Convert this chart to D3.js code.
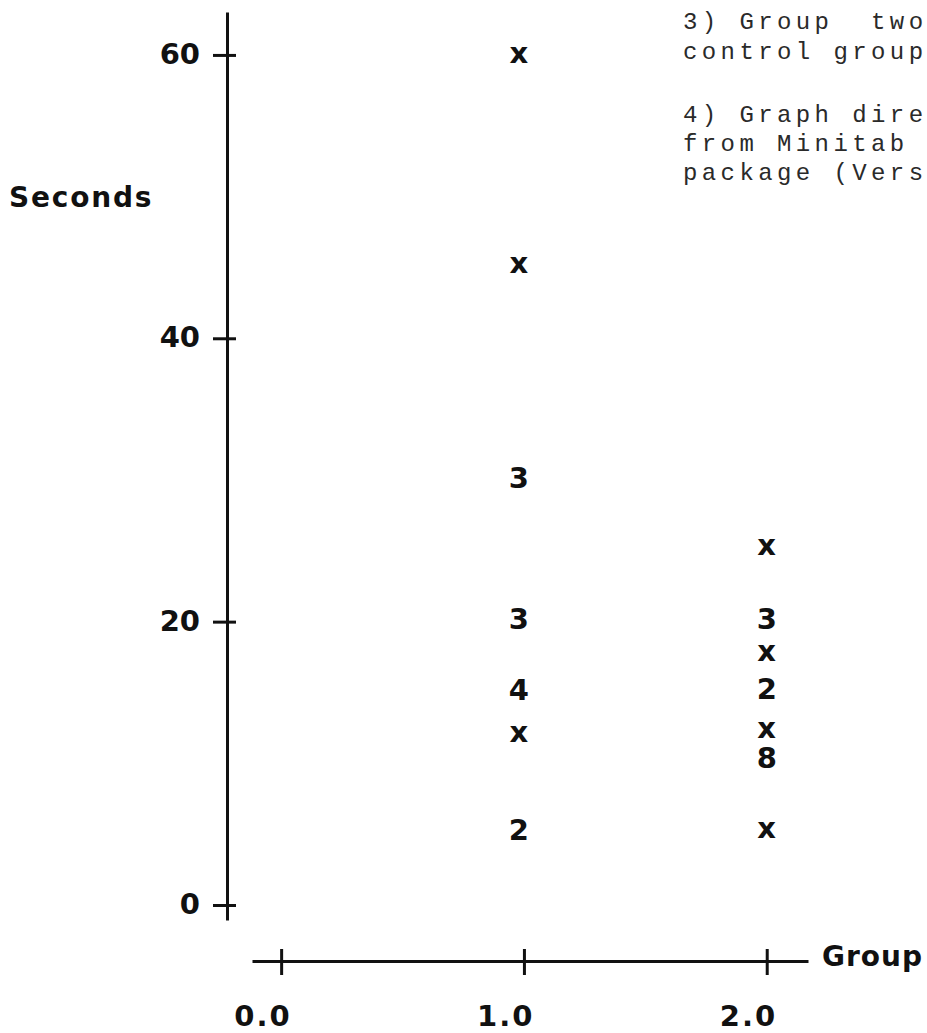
<!DOCTYPE html>
<html>
<head>
<meta charset="utf-8">
<script src="https://cdn.jsdelivr.net/npm/d3@7"></script>
<style>
  html, body { margin: 0; padding: 0; background: #fff; overflow: hidden; }
  svg { display: block; }
</style>
</head>
<body>
<script>
// ---------------- data ----------------
const yTickValues = [0, 20, 40, 60];
const xTickValues = [0, 1, 2];
const xTickLabels = ["0.0", "1.0", "2.0"];

const group1Seconds = [60, 45.2, 30.2, 20.2, 15.2, 12.1, 5.3];
const group1Symbols = ["x", "x", "3", "3", "4", "x", "2"];
const group2Seconds = [25.3, 20.2, 17.8, 15.3, 12.4, 10.4, 5.3];
const group2Symbols = ["x", "3", "x", "2", "x", "8", "x"];

const yAxisTitle = "Seconds";
const xAxisTitle = "Group";
const noteLines = [
  "3) Group  two",
  "control group",
  "",
  "",
  "4) Graph dire",
  "from Minitab",
  "package (Vers"
];

// ---------------- layout ----------------
const W = 927, H = 1033;
const svg = d3.select("body").append("svg").attr("width", W).attr("height", H);

const yScale = d3.scaleLinear().domain([-1.06, 63.03]).range([920, 12]);
const xScale = d3.scaleLinear().domain([-0.12, 2.17]).range([252, 808]);
const axisX = 227;     // where y axis sits
const axisY = 961;     // where x axis sits

const boldFont = "'DejaVu Sans', sans-serif";

// ---------------- y axis ----------------
const gy = svg.append("g")
  .attr("transform", `translate(${axisX},0)`)
  .call(d3.axisLeft(yScale).tickValues(yTickValues).tickSizeOuter(0).tickSizeInner(14).tickFormat(d3.format("d")));
gy.select(".domain").attr("stroke", "#111").attr("stroke-width", 3);
gy.selectAll(".tick line").attr("x1", 9).attr("x2", -14).attr("stroke", "#111").attr("stroke-width", 3);
gy.selectAll(".tick text")
  .attr("x", -27).attr("dy", "0.3em")
  .attr("font-family", boldFont).attr("font-weight", "bold").attr("font-size", 29)
  .attr("fill", "#111");

// ---------------- x axis ----------------
const gx = svg.append("g")
  .attr("transform", `translate(0,${axisY})`)
  .call(d3.axisBottom(xScale).tickValues(xTickValues).tickSizeOuter(0).tickSizeInner(12)
        .tickFormat((d, i) => xTickLabels[i]));
gx.select(".domain").attr("stroke", "#111").attr("stroke-width", 3);
gx.selectAll(".tick line").attr("y1", -12).attr("y2", 14).attr("stroke", "#111").attr("stroke-width", 3);
gx.selectAll(".tick text")
  .attr("y", 65).attr("dy", 0).attr("x", 10)
  .attr("text-anchor", "end")
  .attr("font-family", boldFont).attr("font-weight", "bold").attr("font-size", 29)
  .attr("letter-spacing", 2)
  .attr("fill", "#111");

// axis titles
svg.append("text")
  .attr("x", 9).attr("y", 207)
  .attr("font-family", boldFont).attr("font-weight", "bold").attr("font-size", 28)
  .attr("letter-spacing", 1.8)
  .attr("fill", "#111")
  .text(yAxisTitle);

svg.append("text")
  .attr("x", xScale.range()[1] + 14).attr("y", axisY + 5)
  .attr("font-family", boldFont).attr("font-weight", "bold").attr("font-size", 28)
  .attr("letter-spacing", 1)
  .attr("fill", "#111")
  .text(xAxisTitle);

// ---------------- points (character plot) ----------------
const points = [];
group1Seconds.forEach((v, i) => points.push({ g: 1, v, s: group1Symbols[i] }));
group2Seconds.forEach((v, i) => points.push({ g: 2, v, s: group2Symbols[i] }));

svg.append("g").selectAll("text")
  .data(points)
  .join("text")
  .attr("x", d => xScale(d.g) - (d.g === 1 ? 5 : 0))
  .attr("y", d => yScale(d.v))
  .attr("dy", d => d.s === "x" ? "0.29em" : "0.36em")
  .attr("text-anchor", "middle")
  .attr("font-family", boldFont).attr("font-weight", "bold").attr("font-size", 29)
  .attr("fill", "#111")
  .text(d => d.s);

// ---------------- typewritten note (top right) ----------------
const noteBaselines = [29, 59, 0, 0, 122, 151, 180];
svg.append("g").selectAll("text")
  .data(noteLines.map((t, i) => ({ t, y: noteBaselines[i] })).filter(d => d.t))
  .join("text")
  .attr("x", 683).attr("y", d => d.y)
  .attr("font-family", "'Liberation Mono', 'DejaVu Sans Mono', monospace")
  .attr("font-size", 24)
  .attr("letter-spacing", 4.4)
  .attr("fill", "#2a2a2a")
  .attr("xml:space", "preserve")
  .style("white-space", "pre")
  .text(d => d.t);
</script>
</body>
</html>
